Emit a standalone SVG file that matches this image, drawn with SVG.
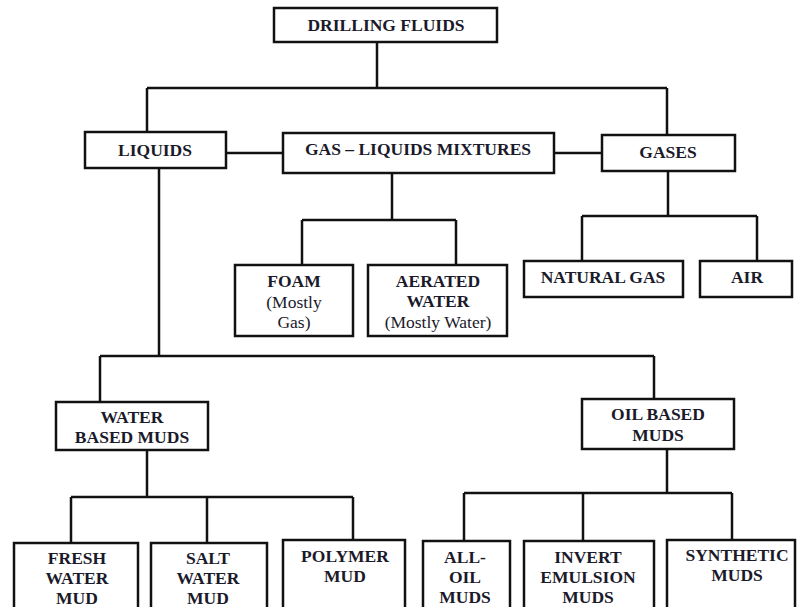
<svg xmlns="http://www.w3.org/2000/svg" width="798" height="607" viewBox="0 0 798 607">
<style>
.box{fill:#fff;stroke:#111;stroke-width:2.5}
.c{fill:none;stroke:#111;stroke-width:2.5}
text{font-family:"Liberation Serif","Times New Roman",serif;font-size:17.5px;font-weight:bold;fill:#1a1a2a;text-anchor:middle}
.n{font-weight:normal}
</style>
<rect width="798" height="607" fill="#fff"/>
<g id="connectors">
<path class="c" d="M377 42V88M147 88H667M147 88V132M667 88V135"/>
<path class="c" d="M226 153H283M554 153H602"/>
<path class="c" d="M392 173V220M302 220H456M302 220V265M456 220V265"/>
<path class="c" d="M668 171V216M582 216H757M582 216V261M757 216V261"/>
<path class="c" d="M159 168V356M100 356H654M100 356V402M654 356V399"/>
<path class="c" d="M147 450V497M71 497H353M71 497V543M207 497V543M353 497V540"/>
<path class="c" d="M667 449V493M464 493H732M464 493V541M583 493V541M732 493V540"/>
</g>
<g id="drilling-fluids"><rect class="box" x="274" y="8" width="223" height="34"/><text x="386" y="31">DRILLING FLUIDS</text></g>
<g id="liquids"><rect class="box" x="85" y="132" width="141" height="36"/><text x="155" y="156">LIQUIDS</text></g>
<g id="gas-liquids"><rect class="box" x="283" y="133" width="271" height="40"/><text x="418" y="155">GAS – LIQUIDS MIXTURES</text></g>
<g id="gases"><rect class="box" x="602" y="135" width="133" height="36"/><text x="668" y="158">GASES</text></g>
<g id="foam"><rect class="box" x="235" y="265" width="118" height="71"/><text x="294" y="287">FOAM</text><text class="n" x="294" y="308">(Mostly</text><text class="n" x="294" y="328">Gas)</text></g>
<g id="aerated"><rect class="box" x="368" y="265" width="139" height="71"/><text x="438" y="287">AERATED</text><text x="438" y="307">WATER</text><text class="n" x="438" y="328">(Mostly Water)</text></g>
<g id="natural-gas"><rect class="box" x="524" y="261" width="159" height="36"/><text x="603" y="283">NATURAL GAS</text></g>
<g id="air"><rect class="box" x="700" y="261" width="92" height="36"/><text x="747" y="283">AIR</text></g>
<g id="water-based"><rect class="box" x="56" y="402" width="152" height="48"/><text x="132" y="423">WATER</text><text x="132" y="443">BASED MUDS</text></g>
<g id="oil-based"><rect class="box" x="582" y="399" width="152" height="50"/><text x="658" y="420">OIL BASED</text><text x="658" y="441">MUDS</text></g>
<g id="fresh"><rect class="box" x="14" y="543" width="124" height="80"/><text x="77" y="564">FRESH</text><text x="77" y="584">WATER</text><text x="77" y="604">MUD</text></g>
<g id="salt"><rect class="box" x="151" y="543" width="116" height="80"/><text x="208" y="564">SALT</text><text x="208" y="584">WATER</text><text x="208" y="604">MUD</text></g>
<g id="polymer"><rect class="box" x="283" y="540" width="122" height="80"/><text x="345" y="562">POLYMER</text><text x="345" y="582">MUD</text></g>
<g id="all-oil"><rect class="box" x="423" y="541" width="87" height="80"/><text x="465" y="563">ALL-</text><text x="465" y="583">OIL</text><text x="465" y="603">MUDS</text></g>
<g id="invert"><rect class="box" x="524" y="541" width="130" height="80"/><text x="588" y="563">INVERT</text><text x="588" y="583">EMULSION</text><text x="588" y="603">MUDS</text></g>
<g id="synthetic"><rect class="box" x="667" y="540" width="128" height="80"/><text x="737" y="561">SYNTHETIC</text><text x="737" y="581">MUDS</text></g>
</svg>
